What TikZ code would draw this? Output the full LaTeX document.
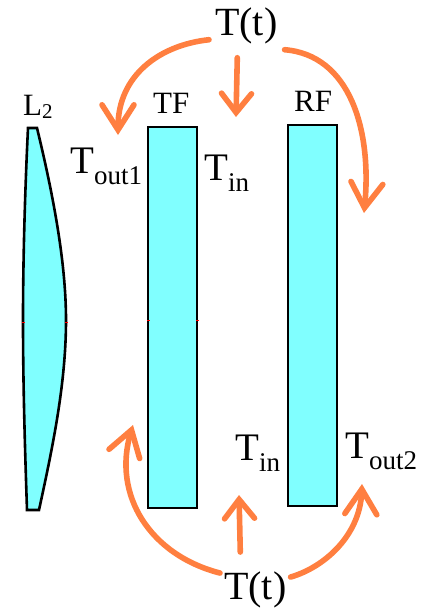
\documentclass[tikz,border=0pt]{standalone}
\usepackage{fontspec}
\setmainfont{Liberation Serif}
\usetikzlibrary{arrows.meta}
\definecolor{filmcyan}{HTML}{80FFFF}
\definecolor{heatorange}{HTML}{FF7F40}
\newcommand{\lowtext}[1]{\raisebox{-11pt}{\fontsize{27}{27}\selectfont #1}}
\tikzset{
  bigtext/.style={font=\fontsize{39}{41}\selectfont, inner sep=0pt, anchor=base west},
  sourcetext/.style={font=\fontsize{40}{42}\selectfont, inner sep=0pt, anchor=base west},
  smalltext/.style={font=\fontsize{31}{33}\selectfont, inner sep=0pt, anchor=base west},
  film/.style={draw=black, line width=2.6pt, fill=filmcyan},
  redtick/.style={fill=red, minimum width=3pt, minimum height=1pt, inner sep=0pt},
  heat/.style={draw=heatorange, line width=5.6pt, line cap=round},
  longhead/.style={-{Straight Barb[length=25pt,width=32pt,line cap=round]}},
  shorthead/.style={-{Straight Barb[length=19pt,width=30pt,line cap=round]}}
}

\begin{document}
\begin{tikzpicture}[x=1pt,y=-1pt]
      \useasboundingbox (0,0) rectangle (426,608);
      % lens and films
      \draw[film] (28,128) -- (37,128) .. controls (52,190) and (66,260) .. (66,320) .. controls (66,385) and (52,450) .. (39,510) -- (27,510) .. controls (25,450) and (23,385) .. (23,320) .. controls (23,260) and (25,190) .. (28,128) -- cycle;
      \draw[film] (148,127) rectangle (197,508);
      \draw[film] (288,125) rectangle (337,506);
      \node[redtick] (lensleft) at (23,322) {}; \node[redtick] (lensright) at (66,322) {};
      \node[redtick] (tfleft) at (148,320) {}; \node[redtick] (tfright) at (197,320) {};
      % labels
      \node[smalltext] (lens) at (23,115) {L\raisebox{-3pt}{\fontsize{21}{21}\selectfont 2}};
      \node[smalltext] (tf) at (153,113) {TF};
      \node[smalltext] (rf) at (294,111) {RF};
      \node[sourcetext] (ttop) at (215,35) {T(t)};
      \node[sourcetext] (tbot) at (224,599) {T(t)};
      \node[bigtext] (tout1) at (70,173) {T\lowtext{out1}};
      \node[bigtext] (tin1) at (204,180) {T\lowtext{in}};
      \node[bigtext] (tin2) at (235,460) {T\lowtext{in}};
      \node[bigtext] (tout2) at (345,458) {T\lowtext{out2}};
      % arrow ends
      \coordinate (endout1) at (118,135);
      \coordinate (endin1) at (236,117);
      \coordinate (endrf) at (364,213);
      \coordinate (endtf) at (133,425);
      \coordinate (endin2) at (239,495);
      \coordinate (endout2) at (362,484);
      % arrows
      \draw[heat,longhead] ([shift={(-6,-4)}]ttop.south west) .. controls (160,45) and (118,75) .. (endout1);
      \draw[heat,shorthead] ([shift={(-9,14)}]ttop.south) -- (endin1);
      \draw[heat,longhead] ([shift={(7,6)}]ttop.south east) .. controls (350,55) and (372,130) .. (endrf);
      \draw[heat,longhead] ([shift={(-4,2)}]tbot.north west) .. controls (150,555) and (112,495) .. (endtf);
      \draw[heat,shorthead] ([shift={(-15,-19)}]tbot.north) -- (endin2);
      \draw[heat,longhead] ([shift={(4,6)}]tbot.north east) .. controls (325,567) and (360,535) .. (endout2);
    \end{tikzpicture}
\end{document}
